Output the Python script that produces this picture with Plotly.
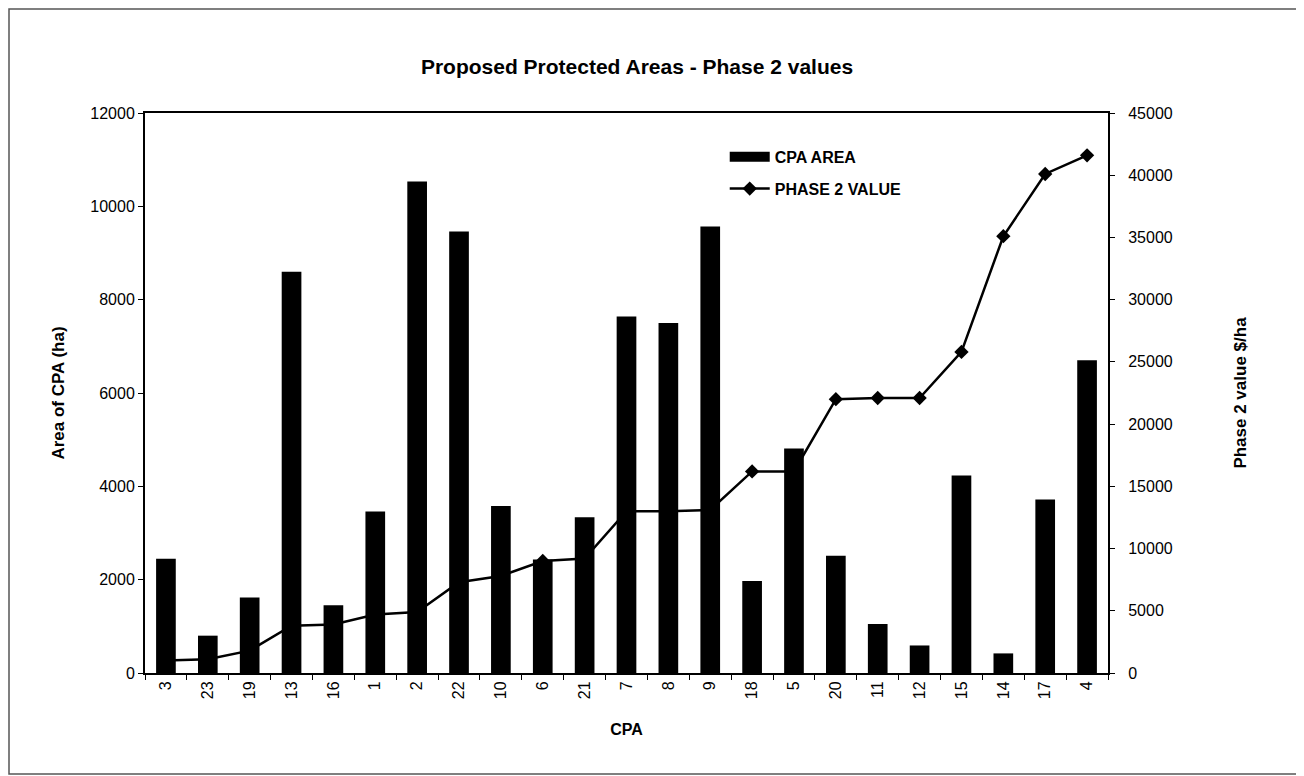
import plotly.graph_objects as go

cpa = ["3", "23", "19", "13", "16", "1", "2", "22", "10", "6", "21", "7",
       "8", "9", "18", "5", "20", "11", "12", "15", "14", "17", "4"]
cpa_area = [2450, 800, 1620, 8600, 1450, 3460, 10530, 9460, 3580, 2430, 3340, 7640,
            7500, 9570, 1970, 4810, 2510, 1050, 590, 4230, 420, 3720, 6700]
phase2_value = [1000, 1100, 1800, 3800, 3900, 4700, 4900, 7300, 7800, 9000, 9200, 13000,
                13000, 13100, 16200, 16200, 22000, 22100, 22100, 25800, 35100, 40100, 41600]

FONT = "Liberation Sans, Arial, sans-serif"

# figure sits at (8,8) in the page because of the default body margin
W, H = 1296, 768
ML, MR, MT, MB = 137, 196, 105, 103
PW, PH = W - ML - MR, H - MT - MB

fig = go.Figure()
fig.add_trace(go.Bar(
    x=cpa, y=cpa_area, name="CPA AREA",
    marker=dict(color="black", line=dict(width=0)),
    yaxis="y", showlegend=False,
))
# legend-only entry drawn as a wide black block, like the reference key
fig.add_trace(go.Scatter(
    x=[None], y=[None], name="<b>CPA AREA</b>", mode="lines",
    line=dict(color="black", width=13), legendgroup="a",
))
fig.add_trace(go.Scatter(
    x=cpa, y=phase2_value, name="<b>PHASE 2 VALUE</b>",
    mode="lines+markers",
    line=dict(color="black", width=2.5),
    marker=dict(symbol="diamond", size=11, color="black"),
    yaxis="y2", legendgroup="b",
))

fig.update_layout(
    width=W, height=H,
    margin=dict(l=ML, r=MR, t=MT, b=MB),
    paper_bgcolor="white", plot_bgcolor="white",
    font=dict(family=FONT, size=16, color="black"),
    bargap=0.53,
    showlegend=True,
    title=dict(text="<b>Proposed Protected Areas - Phase 2 values</b>",
               x=(637 - 8 - ML) / PW, xref="paper", xanchor="center",
               y=1 - 59 / H, yanchor="middle",
               font=dict(size=21, family=FONT, color="black")),
    legend=dict(x=0.602, y=0.952, xanchor="left", yanchor="top",
                bgcolor="rgba(0,0,0,0)", borderwidth=0,
                font=dict(size=16, family=FONT), itemwidth=40,
                tracegroupgap=8),
    xaxis=dict(
        type="category", range=[-0.5, len(cpa) - 0.5],
        title=dict(text="<b>CPA</b>", font=dict(size=16), standoff=26),
        showline=True, linecolor="black", linewidth=2, mirror=True,
        ticks="outside", tickson="boundaries", ticklen=5, tickcolor="black",
        tickangle=-90, showgrid=False, zeroline=False,
        tickfont=dict(size=16),
    ),
    yaxis=dict(
        range=[0, 12000], dtick=2000, tickformat="d",
        title=dict(text="<b>Area of CPA (ha)</b>", font=dict(size=17), standoff=21),
        showline=True, linecolor="black", linewidth=2,
        ticks="outside", ticklen=5, tickcolor="black",
        showgrid=False, zeroline=False, tickfont=dict(size=16),
    ),
    yaxis2=dict(
        range=[0, 45000], dtick=5000, tickformat="d", overlaying="y", side="right",
        title=dict(text="<b>Phase 2 value $/ha</b>", font=dict(size=17), standoff=62),
        showline=True, linecolor="black", linewidth=2,
        ticks="outside", ticklen=5, tickcolor="black", ticklabelstandoff=10,
        showgrid=False, zeroline=False, tickfont=dict(size=16),
    ),
)

# outer chart border
fig.add_shape(type="rect", xref="paper", yref="paper",
              x0=(1 - ML) / PW, x1=(1292 - ML) / PW,
              y0=(PH + MT - 766) / PH, y1=(PH + MT - 1) / PH,
              line=dict(color="#555555", width=1.5), layer="below")

fig.write_html("out.html")
